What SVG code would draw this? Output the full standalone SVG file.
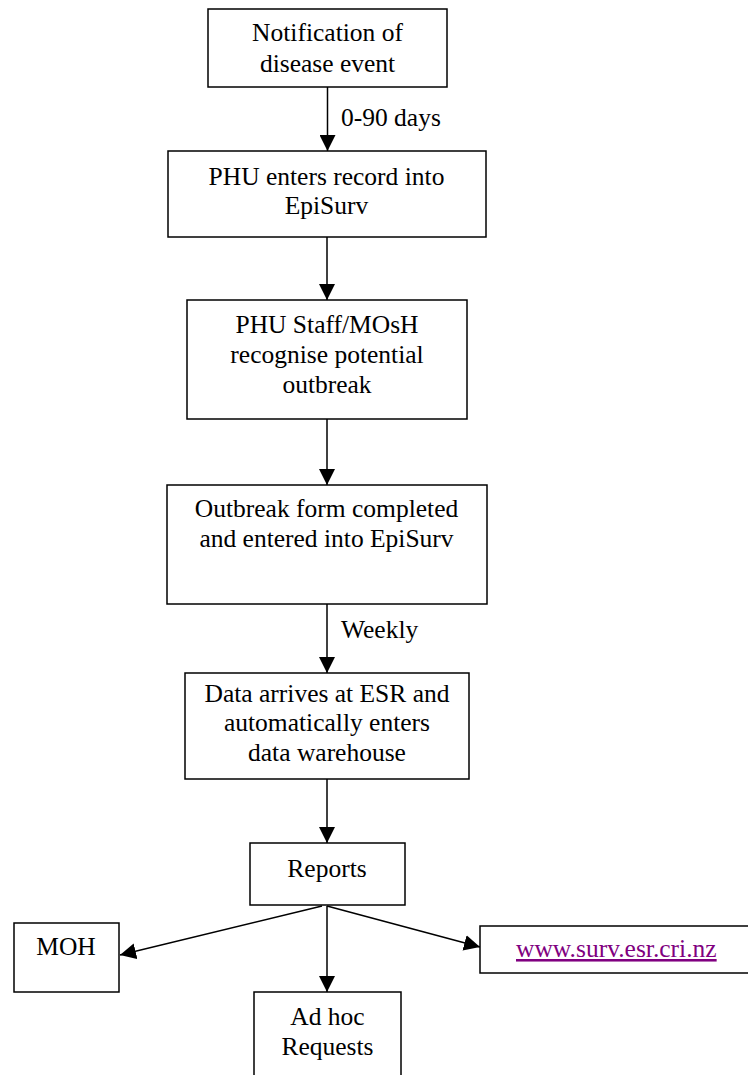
<svg xmlns="http://www.w3.org/2000/svg" width="748" height="1075" viewBox="0 0 748 1075">
<style>
.box{fill:#fff;stroke:#000;stroke-width:1.5}
.t{font-family:"Liberation Serif","Times New Roman",serif;font-size:25.5px;fill:#000;text-anchor:middle}
.lbl{font-family:"Liberation Serif","Times New Roman",serif;font-size:25.5px;fill:#000}
.link{font-family:"Liberation Serif","Times New Roman",serif;font-size:25.5px;fill:#800080;text-decoration:underline}
.c{stroke:#000;stroke-width:1.5;fill:none;marker-end:url(#ah)}
</style>
<defs>
<marker id="ah" markerUnits="userSpaceOnUse" markerWidth="16" markerHeight="16" viewBox="0 0 16 16" refX="16" refY="8" orient="auto">
<path d="M0,0 L16,8 L0,16 Z" fill="#000"/>
</marker>
</defs>
<g id="connectors">
<line class="c" x1="327.5" y1="87" x2="327.5" y2="151"/>
<line class="c" x1="327" y1="237" x2="327" y2="300"/>
<line class="c" x1="327" y1="419" x2="327" y2="485"/>
<line class="c" x1="327" y1="604" x2="327" y2="673"/>
<line class="c" x1="327" y1="779" x2="327" y2="843"/>
<line class="c" x1="322" y1="906" x2="120" y2="955"/>
<line class="c" x1="327" y1="906" x2="327" y2="992"/>
<line class="c" x1="327" y1="906" x2="480" y2="947"/>
<text class="lbl" x="341" y="126">0-90 days</text>
<text class="lbl" x="341" y="638">Weekly</text>
</g>
<g id="n1">
<rect class="box" x="208" y="9" width="239" height="78"/>
<text class="t" x="327.5" y="41">Notification of</text>
<text class="t" x="327.5" y="71.5">disease event</text>
</g>
<g id="n2">
<rect class="box" x="168" y="151" width="318" height="86"/>
<text class="t" x="326.5" y="185">PHU enters record into</text>
<text class="t" x="326.5" y="214">EpiSurv</text>
</g>
<g id="n3">
<rect class="box" x="187" y="300" width="280" height="119"/>
<text class="t" x="327" y="333">PHU Staff/MOsH</text>
<text class="t" x="327" y="363">recognise potential</text>
<text class="t" x="327" y="393">outbreak</text>
</g>
<g id="n4">
<rect class="box" x="167" y="485" width="320" height="119"/>
<text class="t" x="326.5" y="517">Outbreak form completed</text>
<text class="t" x="326.5" y="547">and entered into EpiSurv</text>
</g>
<g id="n5">
<rect class="box" x="185" y="673" width="284" height="106"/>
<text class="t" x="327" y="702">Data arrives at ESR and</text>
<text class="t" x="327" y="731">automatically enters</text>
<text class="t" x="327" y="761">data warehouse</text>
</g>
<g id="n6">
<rect class="box" x="250" y="843" width="155" height="62"/>
<text class="t" x="327" y="877">Reports</text>
</g>
<g id="n7">
<rect class="box" x="14" y="923" width="105" height="69"/>
<text class="t" x="66" y="955">MOH</text>
</g>
<g id="n8">
<rect class="box" x="480" y="926" width="275" height="47"/>
<text class="link" x="516" y="957">www.surv.esr.cri.nz</text>
</g>
<g id="n9">
<rect class="box" x="254" y="992" width="147" height="100"/>
<text class="t" x="327.5" y="1025">Ad hoc</text>
<text class="t" x="327.5" y="1055">Requests</text>
</g>
</svg>
